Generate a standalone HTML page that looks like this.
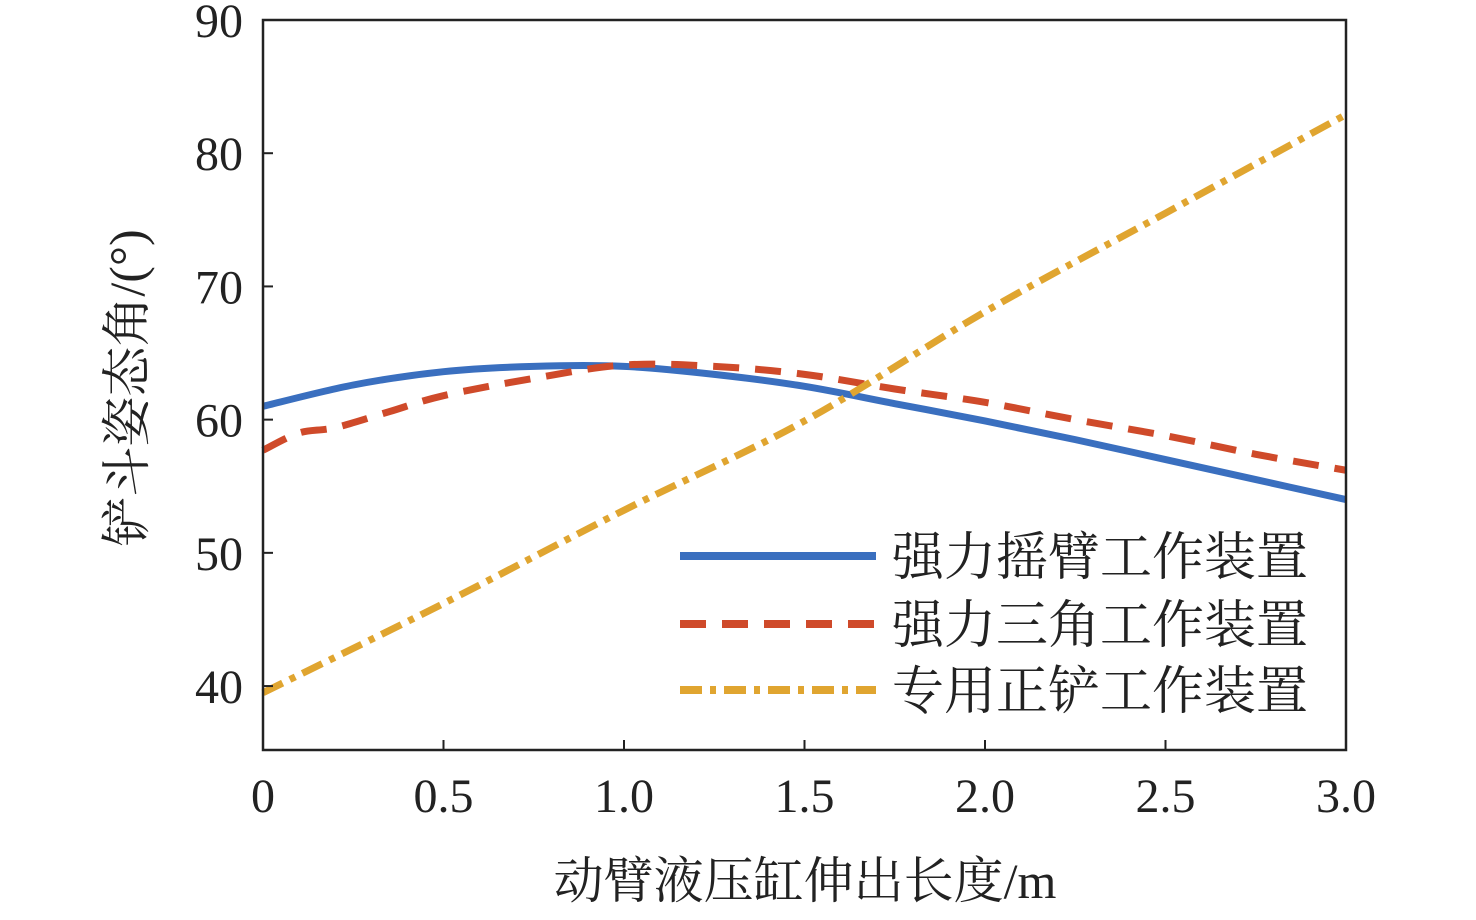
<!DOCTYPE html>
<html><head><meta charset="utf-8"><style>
body{margin:0;background:#fff;width:1476px;height:915px;overflow:hidden}
text{font-family:"Liberation Serif","Noto Serif CJK SC",serif;fill:#222}
</style></head><body>
<svg id="chart" width="1476" height="915" viewBox="0 0 1476 915" xmlns="http://www.w3.org/2000/svg">
<g id="plot"></g>
</svg>
<script>
const xs=[0,0.25,0.5,0.75,1.0,1.25,1.5,1.75,2.0,2.25,2.5,2.75,3.0];
const blueVals=[61.0,62.6,63.6,64.0,64.0,63.4,62.5,61.2,59.9,58.5,57.0,55.5,54.0];
const redX=[0,0.1,0.2,0.35,0.5,0.75,1.0,1.25,1.5,1.75,2.0,2.25,2.5,2.75,3.0];
const redVals=[57.7,59.0,59.4,60.6,61.8,63.1,64.1,64.0,63.4,62.3,61.3,60.0,58.8,57.4,56.2];
const orangeX=[0,0.5,1.0,1.5,2.0,2.5,3.0];
const orangeVals=[39.5,46.2,53.2,59.9,68.1,75.5,82.9];
const xTicks=[0,0.5,1.0,1.5,2.0,2.5,3.0];
const xTickLabels=["0","0.5","1.0","1.5","2.0","2.5","3.0"];
const yTicks=[40,50,60,70,80,90];
const legendLabels=["强力摇臂工作装置","强力三角工作装置","专用正铲工作装置"];

const L=263,R=1346,T=20,B=750,ymin=35.2,ymax=90;
const sx=v=>L+(v-0)/3*(R-L);
const sy=v=>B-(v-ymin)/(ymax-ymin)*(B-T);
const g=document.getElementById('plot');
const NS="http://www.w3.org/2000/svg";
function mk(t,a){const e=document.createElementNS(NS,t);for(const k in a)e.setAttribute(k,a[k]);g.appendChild(e);return e;}
function smooth(P){
  let d="M"+P[0][0]+","+P[0][1];
  for(let i=0;i<P.length-1;i++){
    const p0=P[Math.max(0,i-1)],p1=P[i],p2=P[i+1],p3=P[Math.min(P.length-1,i+2)];
    const c1=[p1[0]+(p2[0]-p0[0])/6,p1[1]+(p2[1]-p0[1])/6];
    const c2=[p2[0]-(p3[0]-p1[0])/6,p2[1]-(p3[1]-p1[1])/6];
    d+=" C"+c1+" "+c2+" "+p2;
  }
  return d;
}

const styles=[{c:"#3a6fbf",d:""},{c:"#cf4a2a",d:"26 16"},{c:"#e0a530",d:"22 8 6 8"}];
const series=[[xs,blueVals],[redX,redVals],[orangeX,orangeVals]];
const names=['series-strong-rocker','series-strong-triangle','series-face-shovel'];
series.forEach((s,i)=>{
  const P=s[0].map((x,j)=>[sx(x),sy(s[1][j])]);
  const p=mk('path',{d:smooth(P),fill:"none",stroke:styles[i].c,"stroke-width":7,"stroke-dasharray":styles[i].d});
  
  
});

const frame=mk('rect',{x:L,y:T,width:R-L,height:B-T,fill:"none",stroke:"#222","stroke-width":2.5});



xTicks.forEach((v,i)=>{
  const t=mk('line',{x1:sx(v),x2:sx(v),y1:B,y2:B-10,stroke:"#222","stroke-width":2});
  
  
  const lb=mk('text',{x:sx(v),y:812,"text-anchor":"middle","font-size":48});
  lb.textContent=xTickLabels[i];
  
  
});
yTicks.forEach(v=>{
  const t=mk('line',{x1:L,x2:L+10,y1:sy(v),y2:sy(v),stroke:"#222","stroke-width":2});
  
  
  const lb=mk('text',{x:243,y:sy(v)+17,"text-anchor":"end","font-size":48});
  lb.textContent=String(v);
  
  
});

const xt=mk('text',{x:805,y:898,"text-anchor":"middle","font-size":50});
xt.textContent="动臂液压缸伸出长度/m";


const yt=mk('text',{x:0,y:0,"text-anchor":"middle","font-size":50,transform:"translate(144,388) rotate(-90)"});
yt.textContent="铲斗姿态角/(°)";



const ly=[556,624,690];
legendLabels.forEach((s,i)=>{
  const ln=mk('line',{x1:680,x2:876,y1:ly[i],y2:ly[i],stroke:styles[i].c,"stroke-width":8,"stroke-dasharray":styles[i].d});
  
  
  const t=mk('text',{x:892,y:ly[i]+19,"font-size":52});
  t.textContent=s;
  
  
});
</script>
</body></html>
